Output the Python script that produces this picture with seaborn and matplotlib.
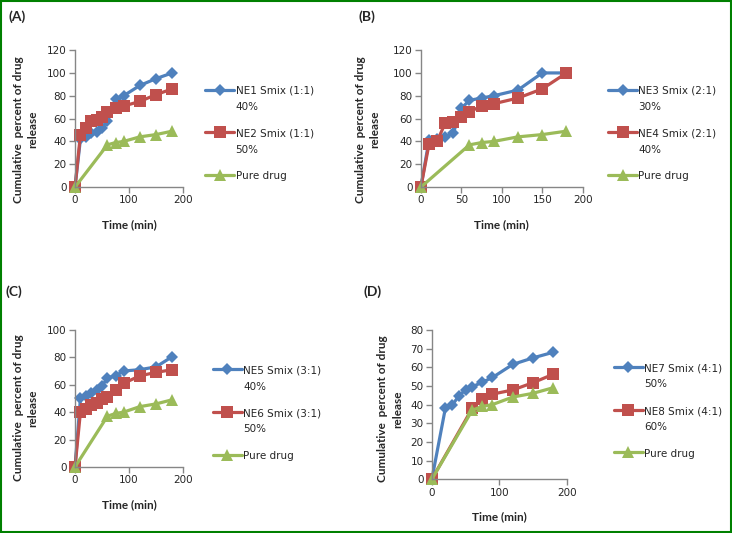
import numpy as np
import pandas as pd
import matplotlib
matplotlib.use("Agg")
import matplotlib.pyplot as plt
import seaborn as sns
from matplotlib.patches import Rectangle
from matplotlib.offsetbox import HPacker, DrawingArea

# time points (min)
t_ne = [0, 10, 20, 30, 40, 50, 60, 75, 90, 120, 150, 180]
t_pure = [0, 60, 75, 90, 120, 150, 180]
pure_drug = [0, 37, 39, 40, 44, 46, 49]

# panel A
ne1 = [0, 42, 44, 47, 48, 52, 58, 77, 80, 89, 95, 100]
ne2 = [0, 46, 52, 58, 59, 61, 66, 69, 71, 75, 81, 86]
# panel B
ne3 = [0, 41, 42, 44, 47, 69, 76, 78, 80, 85, 100, 100]
ne4 = [0, 37.5, 40, 56, 57, 61, 66, 71, 73, 78, 86, 100]
# panel C
ne5 = [0, 50, 51.5, 54, 56, 59, 65, 66.5, 70, 71, 73, 80.5]
ne6 = [0, 40, 42, 45, 47, 49.5, 51, 56, 61, 66.5, 69, 71]
# panel D
t_ne7 = [0, 20, 30, 40, 50, 60, 75, 90, 120, 150, 180]
ne7 = [0, 38, 39.7, 44.5, 48, 49.5, 52, 54.5, 61.5, 65, 68]
t_ne8 = [0, 60, 75, 90, 120, 150, 180]
ne8 = [0, 38, 43, 45.6, 47.8, 51.7, 56.2]

BLUE, RED, GREEN = "#4F81BD", "#C0504D", "#9BBB59"

sns.set_theme(style="white")
plt.rcParams["font.family"] = ["DejaVu Sans"]

fig = plt.figure(figsize=(7.32, 5.33), dpi=100)
fig.patches.append(Rectangle((0.001, 0.002), 0.997, 0.996, transform=fig.transFigure,
                             fill=False, edgecolor="#008000", linewidth=1.5))

panels = [
    dict(tag="(A)", tagpos=(0.012, 0.968), rect=[0.1025, 0.649, 0.1475, 0.257],
         series=[(t_ne, ne1, "NE1 Smix (1:1)\n40%"), (t_ne, ne2, "NE2 Smix (1:1)\n50%")],
         ylim=120, ystep=20, xticks=[0, 100, 200], ylab=(-0.34, 0.42), leg=(1.12, 0.39)),
    dict(tag="(B)", tagpos=(0.49, 0.968), rect=[0.575, 0.649, 0.221, 0.257],
         series=[(t_ne, ne3, "NE3 Smix (2:1)\n30%"), (t_ne, ne4, "NE4 Smix (2:1)\n40%")],
         ylim=120, ystep=20, xticks=[0, 50, 100, 150, 200], ylab=(-0.25, 0.42), leg=(1.10, 0.39)),
    dict(tag="(C)", tagpos=(0.008, 0.452), rect=[0.1025, 0.124, 0.1475, 0.257],
         series=[(t_ne, ne5, "NE5 Smix (3:1)\n40%"), (t_ne, ne6, "NE6 Smix (3:1)\n50%")],
         ylim=100, ystep=20, xticks=[0, 100, 200], ylab=(-0.34, 0.43), leg=(1.19, 0.39)),
    dict(tag="(D)", tagpos=(0.496, 0.452), rect=[0.590, 0.101, 0.184, 0.280],
         series=[(t_ne7, ne7, "NE7 Smix (4:1)\n50%"), (t_ne8, ne8, "NE8 Smix (4:1)\n60%")],
         ylim=80, ystep=10, xticks=[0, 100, 200], ylab=(-0.215, 0.47), leg=(1.28, 0.456)),
]

for p in panels:
    ax = fig.add_axes(p["rect"])
    styles = [(BLUE, "D", 6), (RED, "s", 8)]
    for (tt, vals, lab), (c, m, ms) in zip(p["series"], styles):
        sns.lineplot(x=tt, y=vals, ax=ax, color=c, marker=m, markersize=ms, linewidth=2.3,
                     markeredgewidth=0, label=lab, clip_on=False)
    sns.lineplot(x=t_pure, y=pure_drug, ax=ax, color=GREEN, marker="^", markersize=8.5,
                 linewidth=2.3, markeredgewidth=0, label="Pure drug", clip_on=False)

    ax.set_xlim(0, 200)
    ax.set_ylim(0, p["ylim"])
    ax.set_xticks(p["xticks"])
    ax.set_yticks(np.arange(0, p["ylim"] + 1, p["ystep"]))
    for s in ["top", "right"]:
        ax.spines[s].set_visible(False)
    for s in ["left", "bottom"]:
        ax.spines[s].set_color("#868686")
        ax.spines[s].set_linewidth(1)
    ax.tick_params(axis="both", which="major", direction="out", length=4, width=1,
                   color="#868686", labelsize=7.5, pad=2, left=True, bottom=True)
    ax.set_xlabel("Time (min)", fontsize=8.5, fontweight="bold", family="Lato", labelpad=10)
    ax.set_ylabel("Cumulative  percent of drug\nrelease", fontsize=8.5, fontweight="bold",
                  family="Lato", linespacing=1.4)
    ax.yaxis.set_label_coords(*p["ylab"])
    leg = ax.legend(loc="center left", bbox_to_anchor=p["leg"], frameon=False,
                    fontsize=7.5, handlelength=2.8, handletextpad=0.1, labelspacing=1.6)
    for txt in leg.get_texts():
        txt.set_linespacing(1.75)
    # put the handle next to the first line of a two-line label
    for box in leg.findobj(HPacker):
        kids = box.get_children()
        if len(kids) == 2 and isinstance(kids[0], DrawingArea):
            box.align = "top"
    fig.text(p["tagpos"][0], p["tagpos"][1], p["tag"], fontsize=10, fontweight="bold",
             family="Lato", va="center")

fig.savefig("out.png", dpi=100)
